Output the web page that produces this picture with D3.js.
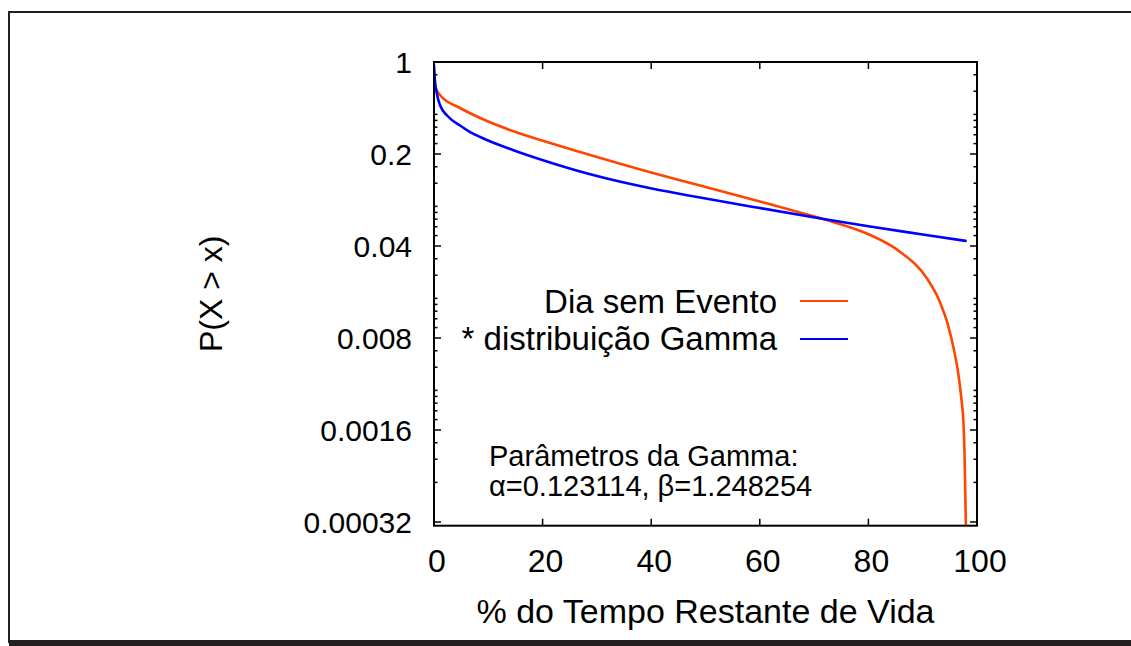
<!DOCTYPE html>
<meta charset='utf-8'>
<body style='margin:0;background:#fff'>
<script src='https://d3js.org/d3.v7.min.js'></script>
<script>

    // data
    var orangeX = [0, 0.3, 1.1, 4.8, 8.5, 14.5, 20.8, 26.9, 40, 49, 60, 67.4, 72.3, 79.7, 85.8, 90.74, 93.0, 94.66, 95.76, 96.59, 97.15, 97.48, 97.70, 97.83, 97.94, 98.0];
    var orangeP = [0.6926, 0.6345, 0.5614, 0.4472, 0.3754, 0.2991, 0.2467, 0.2071, 0.1447, 0.1153, 0.0871, 0.0719, 0.0630, 0.0498, 0.0362, 0.0228, 0.01555, 0.01003, 0.00649, 0.00419, 0.00270, 0.00190, 0.00107, 0.000558, 0.000314, 0.0002];
    var blueX = [0, 0.2, 0.5, 1.1, 2.5, 4.8, 6.5, 8.5, 14.5, 20.8, 26.9, 33, 40.1, 49, 60, 72.3, 80.3, 90, 98.1];
    var blueP = [0.9489, 0.7048, 0.5814, 0.4713, 0.3888, 0.3293, 0.2964, 0.2693, 0.2145, 0.1754, 0.1473, 0.1269, 0.1094, 0.0934, 0.0777, 0.0636, 0.0562, 0.0489, 0.0436];

    var xTicks = [0, 20, 40, 60, 80, 100];
    var yTicks = [1, 0.2, 0.04, 0.008, 0.0016, 0.00032];
    var yTickLabels = ['1', '0.2', '0.04', '0.008', '0.0016', '0.00032'];
    var yMinor = [0.00064, 0.00096, 0.00128,
                  0.00192, 0.00224, 0.00256, 0.00288, 0.0032, 0.0048, 0.0064,
                  0.0096, 0.0112, 0.0128, 0.0144, 0.016, 0.024, 0.032,
                  0.048, 0.056, 0.064, 0.072, 0.08, 0.12, 0.16,
                  0.24, 0.28, 0.32, 0.36, 0.4, 0.6, 0.8];
    var legendLabels = ['Dia sem Evento', '* distribuição Gamma'];
    var colors = { orange: '#FF4500', blue: '#0000FF' };

    var width = 1131, height = 646;
    var pLeft = 434, pRight = 977, pTop = 62, pBottom = 525.7;
    var font = 'Liberation Sans, Arial, sans-serif';

    var svg = d3.select('body').append('svg')
        .attr('width', width)
        .attr('height', height)
        .style('display', 'block');

    // outer frame
    svg.append('path')
        .attr('d', 'M9,643 L9,12 L1140,12')
        .attr('fill', 'none')
        .attr('stroke', '#231f20')
        .attr('stroke-width', 2);
    svg.append('line')
        .attr('x1', 9).attr('x2', 1131)
        .attr('y1', 643).attr('y2', 643)
        .attr('stroke', '#231f20')
        .attr('stroke-width', 6);

    var x = d3.scaleLinear().domain([0, 100]).range([pLeft, pRight]);
    var y = d3.scaleLog().base(5).domain([0.0003, 1]).range([pBottom, pTop]);

    var plot = svg.append('g');

    plot.append('clipPath').attr('id', 'clip')
        .append('rect')
        .attr('x', pLeft).attr('y', pTop)
        .attr('width', pRight - pLeft).attr('height', pBottom - pTop);

    // ticks, mirrored on the right and top
    function yTick(v, len) {
        plot.append('line').attr('x1', pLeft).attr('x2', pLeft + len)
            .attr('y1', y(v)).attr('y2', y(v)).attr('stroke', '#000').attr('stroke-width', 1.5);
        plot.append('line').attr('x1', pRight).attr('x2', pRight - len)
            .attr('y1', y(v)).attr('y2', y(v)).attr('stroke', '#000').attr('stroke-width', 1.5);
    }
    yTicks.forEach(function(v){ yTick(v, 7); });
    yMinor.forEach(function(v){ yTick(v, 3.5); });

    xTicks.forEach(function(v){
        plot.append('line').attr('x1', x(v)).attr('x2', x(v))
            .attr('y1', pBottom).attr('y2', pBottom - 7).attr('stroke', '#000').attr('stroke-width', 1.5);
        plot.append('line').attr('x1', x(v)).attr('x2', x(v))
            .attr('y1', pTop).attr('y2', pTop + 7).attr('stroke', '#000').attr('stroke-width', 1.5);
    });

    // curves
    var line = d3.line()
        .x(function(d){ return x(d[0]); })
        .y(function(d){ return y(d[1]); })
        .curve(d3.curveMonotoneX);

    plot.append('path')
        .datum(orangeX.map(function(v, i){ return [v, orangeP[i]]; }))
        .attr('clip-path', 'url(#clip)')
        .attr('fill', 'none')
        .attr('stroke', colors.orange)
        .attr('stroke-width', 2.6)
        .attr('d', line);

    plot.append('path')
        .datum(blueX.map(function(v, i){ return [v, blueP[i]]; }))
        .attr('clip-path', 'url(#clip)')
        .attr('fill', 'none')
        .attr('stroke', colors.blue)
        .attr('stroke-width', 2.6)
        .attr('d', line);

    // box
    plot.append('rect')
        .attr('x', pLeft).attr('y', pTop)
        .attr('width', pRight - pLeft).attr('height', pBottom - pTop)
        .attr('fill', 'none')
        .attr('stroke', '#000')
        .attr('stroke-width', 2);

    // tick labels
    svg.selectAll('.ylab')
        .data(yTicks)
        .enter()
        .append('text')
        .attr('x', 412)
        .attr('y', function(d){ return y(d); })
        .attr('dy', '0.36em')
        .attr('text-anchor', 'end')
        .style('font-family', font)
        .style('font-size', '30px')
        .text(function(d, i){ return yTickLabels[i]; });

    svg.selectAll('.xlab')
        .data(xTicks)
        .enter()
        .append('text')
        .attr('x', function(d){ return x(d) + 3; })
        .attr('y', 572)
        .attr('text-anchor', 'middle')
        .style('font-family', font)
        .style('font-size', '32px')
        .text(function(d){ return d; });

    // axis titles
    svg.append('text')
        .attr('x', (pLeft + pRight) / 2)
        .attr('y', 623)
        .attr('text-anchor', 'middle')
        .style('font-family', font)
        .style('font-size', '34px')
        .text('% do Tempo Restante de Vida');

    svg.append('text')
        .attr('transform', 'translate(222,' + ((pTop + pBottom) / 2) + ') rotate(-90)')
        .attr('text-anchor', 'middle')
        .style('font-family', font)
        .style('font-size', '32px')
        .text('P(X > x)');

    // legend
    var legendColors = [colors.orange, colors.blue];
    legendLabels.forEach(function(t, i){
        svg.append('text')
            .attr('x', 777)
            .attr('y', 313 + i * 37)
            .attr('text-anchor', 'end')
            .style('font-family', font)
            .style('font-size', '33px')
            .text(t);
        svg.append('line')
            .attr('x1', 800).attr('x2', 848)
            .attr('y1', 301 + i * 38).attr('y2', 301 + i * 38)
            .attr('stroke', legendColors[i])
            .attr('stroke-width', 2);
    });

    // parameters note
    svg.append('text')
        .attr('x', 489)
        .attr('y', 466)
        .style('font-family', font)
        .style('font-size', '29px')
        .text('Parâmetros da Gamma:');
    svg.append('text')
        .attr('x', 489)
        .attr('y', 496)
        .style('font-family', font)
        .style('font-size', '29px')
        .text('α=0.123114, β=1.248254');

</script>
</body>
</html>
